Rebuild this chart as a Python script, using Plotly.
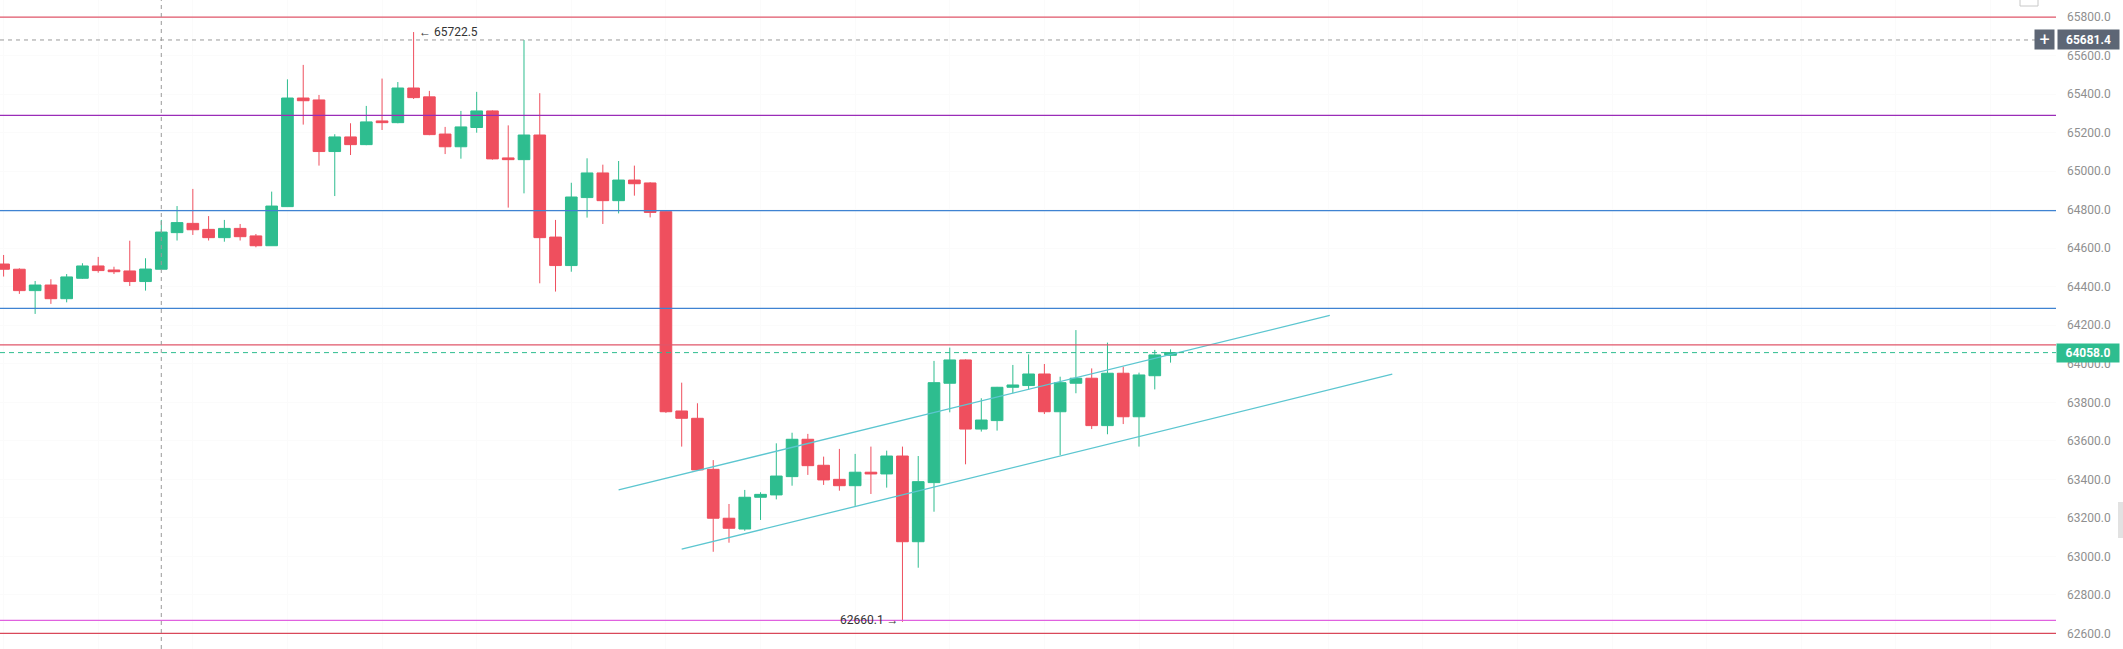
import plotly.graph_objects as go

# ---- data ----
opens  = [64518,64491,64380,64409,64338,64444,64508,64487,64482,64427,
          64491,64681,64729,64698,64655,64703,64664,64613,64816,65380,
          65370,65102,65178,65138,65261,65252,65432,65386,65193,65127,
          65227,65313,65069,65060,65188,64658,64510,64863,64991,64847,
          64954,64939,64790,63755,63717,63452,63198,63142,63307,63319,
          63414,63608,63473,63400,63367,63437,63428,63521,63076,63383,
          63899,64020,63661,63705,63878,63887,63947,63751,63899,63925,
          63679,63951,63725,63938,64044]
highs  = [64565,64496,64430,64439,64466,64522,64555,64504,64639,64548,
          64747,64819,64908,64767,64747,64726,64674,64894,65477,65552,
          65396,65192,65249,65339,65481,65463,65722.5,65417,65230,65313,
          65412,65316,65238,65681.4,65405,64747,64940,65067,65034,65053,
          65029,64943,64792,63902,63795,63500,63272,63345,63333,63587,
          63642,63636,63518,63558,63532,63570,63549,63570,63521,64015,
          64084,64023,63821,63880,63994,64049,63999,63933,64175,63976,
          64110,63985,63954,64072,64075]
lows   = [64453,64363,64259,64311,64319,64441,64473,64466,64404,64380,
          64487,64640,64669,64640,64634,64640,64605,64613,64816,65242,
          65029,64871,65084,65135,65214,65249,65375,65187,65089,65065,
          65200,65060,64811,64885,64418,64375,64478,64759,64726,64781,
          64873,64760,63745,63570,63446,63024,63071,63133,63189,63296,
          63367,63423,63371,63341,63262,63324,63357,62660.1,62941,63232,
          63748,63478,63648,63653,63847,63864,63739,63526,63847,63661,
          63634,63687,63570,63867,64006]
closes = [64491,64380,64409,64338,64451,64508,64484,64478,64427,64492,
          64684,64733,64696,64655,64703,64660,64613,64819,65380,65366,
          65102,65178,65138,65256,65252,65432,65382,65190,65127,65230,
          65313,65064,65060,65188,64655,64510,64866,64991,64847,64954,
          64935,64786,63751,63717,63449,63198,63146,63307,63322,63417,
          63608,63471,63397,63367,63437,63428,63521,63076,63388,63902,
          64020,63661,63708,63878,63890,63947,63751,63902,63925,63679,
          63951,63725,63942,64046,64058]
idx = list(range(len(opens)))

# horizontal levels: (price, colour, dash)
levels = [(65800, "#e0566a", "solid"),
          (65290, "#9a2cb8", "solid"),
          (64795, "#3f83d2", "solid"),
          (64288, "#3f83d2", "solid"),
          (64098, "#e0566a", "solid"),
          (62668, "#e062df", "solid"),
          (62600, "#d9485a", "solid")]
high_mark = 65681.4
last_price = 64058.0
max_price = 65722.5
min_price = 62660.1
crosshair_idx = 10

# channel lines (index, price)
upper_x = [39.0, 84.1]; upper_y = [63345, 64251]
lower_x = [43.0, 88.06]; lower_y = [63037, 63946]

tickvals = list(range(62600, 65801, 200))

GREEN = "#2ebd8f"
RED = "#ef4f5e"

fig = go.Figure()
fig.add_trace(go.Candlestick(
    x=idx, open=opens, high=highs, low=lows, close=closes,
    increasing=dict(line=dict(color=GREEN, width=1), fillcolor=GREEN),
    decreasing=dict(line=dict(color=RED, width=1), fillcolor=RED),
    whiskerwidth=0, hoverinfo="skip", showlegend=False))

for xs, ys in [(upper_x, upper_y), (lower_x, lower_y)]:
    fig.add_trace(go.Scatter(x=xs, y=ys, mode="lines",
                             line=dict(color="#5cc6d0", width=1.3),
                             hoverinfo="skip", showlegend=False))

shapes = []
for p, c, d in levels:
    shapes.append(dict(type="line", xref="paper", x0=0, x1=1, yref="y", y0=p, y1=p,
                       line=dict(color=c, width=1.2, dash=d), layer="above"))
shapes.append(dict(type="line", xref="paper", x0=0, x1=0.99, yref="y", y0=high_mark, y1=high_mark,
                   line=dict(color="#9a9a9a", width=1, dash="4px,4px"), layer="above"))
shapes.append(dict(type="line", xref="paper", x0=0, x1=1, yref="y", y0=last_price, y1=last_price,
                   line=dict(color=GREEN, width=1, dash="5px,4px"), layer="above"))
shapes.append(dict(type="line", xref="x", x0=crosshair_idx, x1=crosshair_idx, yref="paper", y0=0, y1=1,
                   line=dict(color="#9a9a9a", width=1, dash="4px,4px"), layer="above"))
# right side UI bits
shapes.append(dict(type="rect", xref="paper", yref="paper", x0=2118/2056, x1=2123/2056,
                   y0=1-538/649, y1=1-502/649, fillcolor="#e2e2e2", line=dict(width=0)))
shapes.append(dict(type="rect", xref="paper", yref="paper", x0=2020/2056, x1=2038/2056,
                   y0=1-6/649, y1=1.01, fillcolor="white", line=dict(color="#c8c8c8", width=1)))

annotations = [
    dict(xref="paper", x=1, xanchor="left", xshift=1, yref="y", y=high_mark, yanchor="middle",
         text="<b>65681.4</b>", showarrow=False, bgcolor="#5d6675", width=57, height=15,
         borderpad=2, font=dict(family="Roboto", size=12, color="white")),
    dict(xref="paper", x=1, xanchor="right", xshift=-1, yref="y", y=high_mark, yanchor="middle",
         text="+", showarrow=False, bgcolor="#5d6675", width=15, height=15,
         borderpad=2, font=dict(family="Roboto", size=18, color="white")),
    dict(xref="paper", x=1, xanchor="left", xshift=0, yref="y", y=last_price, yanchor="middle",
         text="<b>64058.0</b>", showarrow=False, bgcolor=GREEN, width=58, height=14,
         borderpad=2, font=dict(family="Roboto", size=12, color="white")),
    dict(x=26, y=max_price, xref="x", yref="y", xanchor="left", yanchor="middle", xshift=3,
         text="← 65722.5", showarrow=False, font=dict(family="Roboto", size=12, color="#333333")),
    dict(x=57, y=min_price, xref="x", yref="y", xanchor="right", yanchor="middle", xshift=-1, yshift=2,
         text="62660.1 →", showarrow=False, font=dict(family="Roboto", size=12, color="#333333")),
]

fig.update_layout(
    width=2123, height=649, margin=dict(l=0, r=67, t=0, b=0),
    paper_bgcolor="white", plot_bgcolor="white",
    boxgap=0.26, boxgroupgap=0,
    shapes=shapes, annotations=annotations,
    xaxis=dict(range=[-0.228, 130.15], showticklabels=False, showgrid=True,
               gridcolor="#fbfbfb", tick0=0, dtick=6, zeroline=False, showline=False,
               rangeslider=dict(visible=False), fixedrange=True),
    yaxis=dict(range=[62519, 65889], side="right", tickvals=tickvals,
               ticktext=[f"{v:.1f}" for v in tickvals], showgrid=True, gridcolor="#fbfbfb",
               zeroline=False, showline=False, ticks="", ticklabelstandoff=10,
               tickfont=dict(family="Roboto", size=12, color="#8f8f8f"), fixedrange=True),
)

fig.write_html("out.html")
